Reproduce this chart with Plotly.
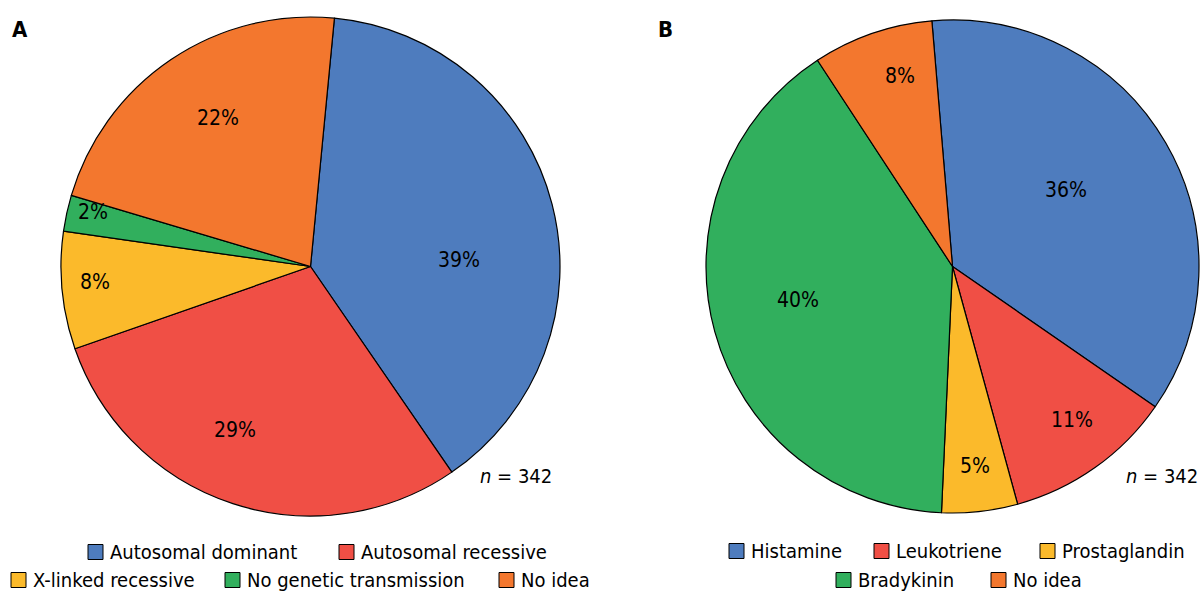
import plotly.graph_objects as go

# Panel A
cats_a = ["Autosomal dominant", "Autosomal recessive", "X-linked recessive",
          "No genetic transmission", "No idea"]
counts_a = [133, 100, 26, 8, 75]
# Panel B
cats_b = ["Histamine", "Leukotriene", "Prostaglandin", "Bradykinin", "No idea"]
counts_b = [123, 38, 17, 137, 27]
n_total = 342

colors = ["#4E7CBE", "#F04F45", "#FBBA2B", "#31AF5D", "#F3772E"]
FONT = "DejaVu Sans Condensed, DejaVu Sans, sans-serif"

W, H = 1200, 594


def px(x):
    return x / W


def py(y):
    return 1 - y / H


fig = go.Figure()
fig.add_trace(go.Pie(
    labels=cats_a, values=counts_a, sort=False, direction="clockwise",
    rotation=5.5, marker=dict(colors=colors, line=dict(color="black", width=1.2)),
    textinfo="none",
    domain=dict(x=[px(61), px(560)], y=[py(516), py(17)]),
    showlegend=False, hoverinfo="label+percent"))
fig.add_trace(go.Pie(
    labels=cats_b, values=counts_b, sort=False, direction="clockwise",
    rotation=-4.8, marker=dict(colors=colors, line=dict(color="black", width=1.2)),
    textinfo="none",
    domain=dict(x=[px(706), px(1199)], y=[py(516), py(17)]),
    showlegend=False, hoverinfo="label+percent"))

shapes = []
annotations = []

# percentage label placement (layout only)
lab_pos_a = [(459, 260), (235, 430), (95, 282), (93, 212), (218, 118)]
lab_pos_b = [(1066, 190), (1072, 420), (975, 466), (798, 300), (900, 76)]

for counts, pos in ((counts_a, lab_pos_a), (counts_b, lab_pos_b)):
    tot = sum(counts)
    for v, (x, y) in zip(counts, pos):
        annotations.append(dict(x=px(x), y=py(y), xref="paper", yref="paper",
                                text=f"{round(100 * v / tot)}%", showarrow=False,
                                xanchor="center", yanchor="middle",
                                font=dict(family=FONT, size=21, color="black")))


def legend_item(x_sq, y_mid, color, label):
    shapes.append(dict(type="rect", xref="paper", yref="paper",
                       x0=px(x_sq), x1=px(x_sq + 15), y0=py(y_mid + 7.5), y1=py(y_mid - 7.5),
                       fillcolor=color, line=dict(color="black", width=1)))
    annotations.append(dict(x=px(x_sq + 20), y=py(y_mid), xref="paper", yref="paper",
                            text=label, showarrow=False, xanchor="left", yanchor="middle",
                            font=dict(family=FONT, size=20, color="black")))


# legend layout (positions only)
leg_a = [(88, 552), (339, 552), (11, 580), (225, 580), (499, 580)]
leg_b = [(729, 551), (874, 551), (1040, 551), (836, 580), (991, 580)]
for (xs, ym), c, l in zip(leg_a, colors, cats_a):
    legend_item(xs, ym, c, l)
for (xs, ym), c, l in zip(leg_b, colors, cats_b):
    legend_item(xs, ym, c, l)

annotations.append(dict(x=px(10), y=py(30), xref="paper", yref="paper", text="<b>A</b>",
                        showarrow=False, xanchor="left", yanchor="middle",
                        font=dict(family=FONT, size=22, color="black")))
annotations.append(dict(x=px(656), y=py(30), xref="paper", yref="paper", text="<b>B</b>",
                        showarrow=False, xanchor="left", yanchor="middle",
                        font=dict(family=FONT, size=22, color="black")))
for xn in (478, 1124):
    annotations.append(dict(x=px(xn), y=py(476), xref="paper", yref="paper",
                            text=f"<i>n</i> = {n_total}",
                            showarrow=False, xanchor="left", yanchor="middle",
                            font=dict(family=FONT, size=20, color="black")))

fig.update_layout(width=W, height=H, margin=dict(l=0, r=0, t=0, b=0),
                  paper_bgcolor="white", plot_bgcolor="white",
                  shapes=shapes, annotations=annotations)
fig.write_html("out.html", config={"displayModeBar": False},
               post_script="document.body.style.margin='0';"
                           "document.body.style.overflow='hidden';")
